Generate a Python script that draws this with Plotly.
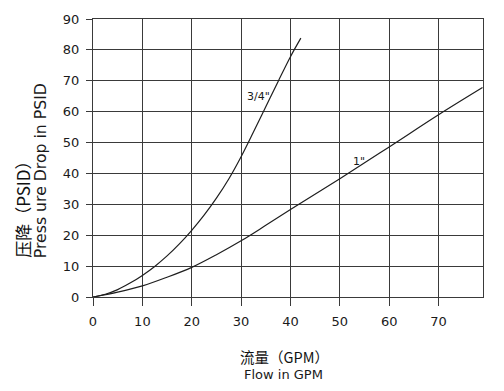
import plotly.graph_objects as go

# Data
flow_34 = [0, 2.5, 5, 7.5, 10, 12.5, 15, 17.5, 20, 22.5, 25, 27.5, 30, 32.5, 35, 37.5, 40, 42.1]
drop_34 = [0, 0.9, 2.4, 4.5, 7.0, 9.9, 13.3, 17.2, 21.6, 26.5, 32.0, 38.2, 45.4, 53.4, 61.6, 69.8, 77.8, 83.8]

flow_1 = [0, 5, 10, 15, 20, 25, 30, 35, 40, 50, 60, 70, 78.9]
drop_1 = [0, 1.6, 3.6, 6.4, 9.6, 13.7, 18.2, 23.2, 28.3, 38.3, 48.6, 59.0, 67.8]

x_ticks = [0, 10, 20, 30, 40, 50, 60, 70]
y_ticks = [0, 10, 20, 30, 40, 50, 60, 70, 80, 90]

label_34 = '3/4"'
label_1 = '1"'
x_title_cn = "流量（GPM）"
x_title_en = "Flow in GPM"
y_title_cn = "压降（PSID）"
y_title_en = "Press ure Drop in PSID"

LINE = "#1e1e1e"
GRID = "#3a3a3a"
LAT = "DejaVu Sans"
CJK = "Noto Sans CJK SC"

fig = go.Figure()
for xs, ys in [(flow_34, drop_34), (flow_1, drop_1)]:
    fig.add_trace(go.Scatter(
        x=xs, y=ys, mode="lines",
        line=dict(color=LINE, width=1.2, shape="spline", smoothing=1.0),
        showlegend=False, hoverinfo="skip",
    ))

fig.update_layout(
    width=504, height=391,
    margin=dict(l=93, r=21, t=14, b=94),
    paper_bgcolor="white", plot_bgcolor="white",
    font=dict(family=LAT, size=13, color="#1a1a1a"),
    xaxis=dict(
        range=[0, 79], tickvals=x_ticks, showgrid=True, gridcolor=GRID, gridwidth=1.2,
        zeroline=False, showline=True, linecolor=GRID, linewidth=1.3, mirror=True,
        ticks="outside", ticklen=8, tickwidth=1.2, tickcolor=GRID,
        tickfont=dict(family=LAT, size=13), ticklabelstandoff=4,
    ),
    yaxis=dict(
        range=[0, 90], tickvals=y_ticks, showgrid=True, gridcolor=GRID, gridwidth=1.2,
        zeroline=False, showline=True, linecolor=GRID, linewidth=1.3, mirror=True,
        ticks="outside", ticklen=6, tickwidth=1.2, tickcolor=GRID,
        tickfont=dict(family=LAT, size=13), ticklabelstandoff=4,
    ),
)

# Curve labels
fig.add_annotation(x=33.5, y=65, xref="x", yref="y", text=label_34, showarrow=False,
                   font=dict(family=LAT, size=11, color="#1a1a1a"))
fig.add_annotation(x=53.8, y=43.8, xref="x", yref="y", text=label_1, showarrow=False,
                   font=dict(family=LAT, size=11, color="#1a1a1a"))

# X title (two lines)
fig.add_annotation(x=0.49, y=-0.215, xref="paper", yref="paper", text=x_title_cn,
                   showarrow=False, xanchor="center", yanchor="middle",
                   font=dict(family=CJK, size=14.5, color="#111111"))
fig.add_annotation(x=0.488, y=-0.2805, xref="paper", yref="paper", text=x_title_en,
                   showarrow=False, xanchor="center", yanchor="middle",
                   font=dict(family=LAT, size=13, color="#1a1a1a"))

# Y title (two rotated lines, bottom aligned)
fig.add_annotation(x=-0.181, y=12, xref="paper", yref="y", text=y_title_cn,
                   showarrow=False, textangle=-90, xanchor="center", yanchor="bottom",
                   font=dict(family=CJK, size=17, color="#111111"))
fig.add_annotation(x=-0.134, y=12, xref="paper", yref="y", text=y_title_en,
                   showarrow=False, textangle=-90, xanchor="center", yanchor="bottom",
                   font=dict(family=LAT, size=15.7, color="#1a1a1a"))

fig.write_html("out.html")
